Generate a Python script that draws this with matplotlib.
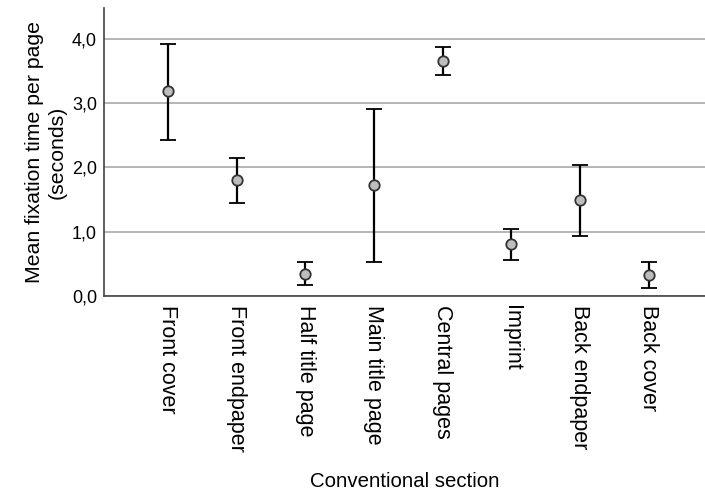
import matplotlib.pyplot as plt
from matplotlib.ticker import FuncFormatter

plt.rcParams['font.family'] = ['Liberation Sans', 'DejaVu Sans']

# Data
sections = ["Front cover", "Front endpaper", "Half title page", "Main title page",
            "Central pages", "Imprint", "Back endpaper", "Back cover"]
means = [3.18, 1.80, 0.35, 1.72, 3.65, 0.81, 1.49, 0.33]
upper = [3.92, 2.14, 0.53, 2.91, 3.87, 1.05, 2.04, 0.53]
lower = [2.42, 1.45, 0.17, 0.53, 3.44, 0.56, 0.93, 0.12]

x = list(range(len(sections)))
err_low = [m - l for m, l in zip(means, lower)]
err_up = [u - m for u, m in zip(upper, means)]

fig = plt.figure(figsize=(7.05, 4.92), dpi=100)
ax = fig.add_axes([0.1475, 0.398, 0.8525, 0.585])

ax.errorbar(x, means, yerr=[err_low, err_up], fmt='o', color='black',
            ecolor='black', elinewidth=1.6, capsize=6, capthick=1.6,
            markersize=7.5, markerfacecolor='#bdbdbd', markeredgecolor='#333333',
            markeredgewidth=1.3, zorder=3)

ax.set_xlim(-0.93, 7.82)
ax.set_ylim(0, 4.47)
ax.set_yticks([0, 1, 2, 3, 4])
ax.yaxis.set_major_formatter(FuncFormatter(lambda v, p: f"{v:.1f}".replace('.', ',')))
ax.yaxis.grid(True, color='#b0b0b0', linewidth=1.3)
ax.set_axisbelow(True)

ax.set_xticks(x)
ax.set_xticklabels(sections, rotation=270, fontsize=15.5, va='top', ha='center')
ax.tick_params(axis='x', length=0, pad=6)
ax.tick_params(axis='y', length=0, pad=5, labelsize=13)

for s in ['top', 'right']:
    ax.spines[s].set_visible(False)
for s in ['left', 'bottom']:
    ax.spines[s].set_color('#444444')
    ax.spines[s].set_linewidth(1.2)

ax.set_xlabel("Conventional section", fontsize=14.7, labelpad=15)
ax.set_ylabel("Mean fixation time per page\n(seconds)", fontsize=15.3, linespacing=1.2,
              labelpad=4)

fig.savefig("out.png", dpi=100)
